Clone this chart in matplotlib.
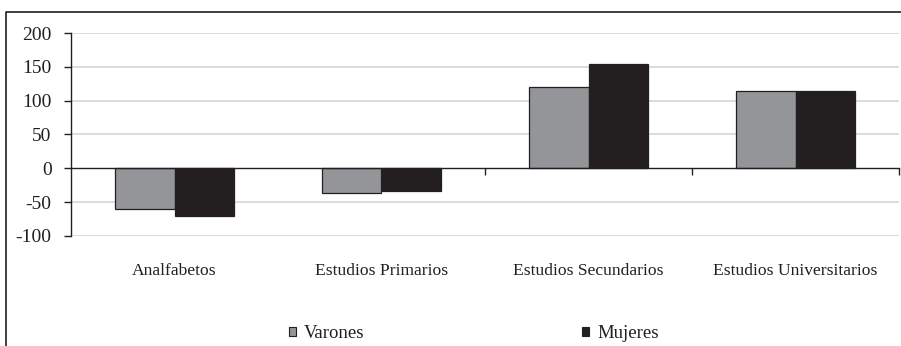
import numpy as np
import matplotlib.pyplot as plt
from matplotlib.patches import Rectangle
from matplotlib.lines import Line2D
from matplotlib.transforms import blended_transform_factory

plt.rcParams['font.family'] = ['Liberation Serif', 'DejaVu Serif']

categories = ["Analfabetos", "Estudios Primarios",
              "Estudios Secundarios", "Estudios Universitarios"]
varones = [-60, -36, 120, 114]
mujeres = [-70, -34, 154, 114]
series_names = ["Varones", "Mujeres"]
yticks = [-100, -50, 0, 50, 100, 150, 200]

GRAY = "#939598"
DARK = "#231f20"
W, H = 901, 346

fig = plt.figure(figsize=(W / 100, H / 100), dpi=100)
ax = fig.add_axes([71 / W, (H - 236) / H, (899 - 71) / W, (236 - 33) / H])

x = np.arange(len(categories))
bw = 0.2875
ax.bar(x - bw / 2, varones, bw, color=GRAY, edgecolor=DARK, linewidth=0.9, zorder=3)
ax.bar(x + bw / 2, mujeres, bw, color=DARK, edgecolor=DARK, linewidth=0.9, zorder=3)

ax.set_xlim(-0.5, len(categories) - 0.5)
ax.set_ylim(-100, 200)
ax.set_yticks(yticks)
ax.set_yticklabels([str(v) for v in yticks], fontsize=14, color=DARK)
ax.tick_params(axis='y', length=5, width=1, color=DARK, pad=9)

# gridlines
for v in yticks:
    if v != 0:
        ax.axhline(v, color="#d9d9d9", lw=1.3, zorder=1)

for s in ["top", "right"]:
    ax.spines[s].set_visible(False)
ax.spines["left"].set_color(DARK)
ax.spines["left"].set_linewidth(1)
ax.spines["bottom"].set_position(("data", 0))
ax.spines["bottom"].set_color(DARK)
ax.spines["bottom"].set_linewidth(1)
ax.spines["bottom"].set_zorder(4)

ax.set_xticks(x[1:] + 0.5)
ax.set_xticklabels([])
ax.tick_params(axis='x', direction='out', length=5, width=1, color=DARK)

trans = blended_transform_factory(ax.transData, ax.transAxes)
for i, c in enumerate(categories):
    ax.text(i, -0.17, c, transform=trans, ha='center', va='center',
            fontsize=12.6, color=DARK)

handles = [Rectangle((0, 0), 1, 1, facecolor=GRAY, edgecolor=DARK, lw=0.8),
           Rectangle((0, 0), 1, 1, facecolor=DARK, edgecolor=DARK, lw=0.8)]
leg = fig.legend(handles, series_names, loc='center', ncol=2,
                 bbox_to_anchor=(474 / W, 1 - 334 / H), frameon=False,
                 fontsize=13.5, handlelength=0.38, handleheight=0.38,
                 handletextpad=0.45, columnspacing=11.6, borderpad=0)
for t in leg.get_texts():
    t.set_color(DARK)

# outer chart frame (only left and top visible in the crop)
fig.add_artist(Line2D([6 / W, 6 / W, 1], [0, 1 - 12 / H, 1 - 12 / H],
                      transform=fig.transFigure, color=DARK, lw=1.2))

fig.savefig("out.png", dpi=100)
